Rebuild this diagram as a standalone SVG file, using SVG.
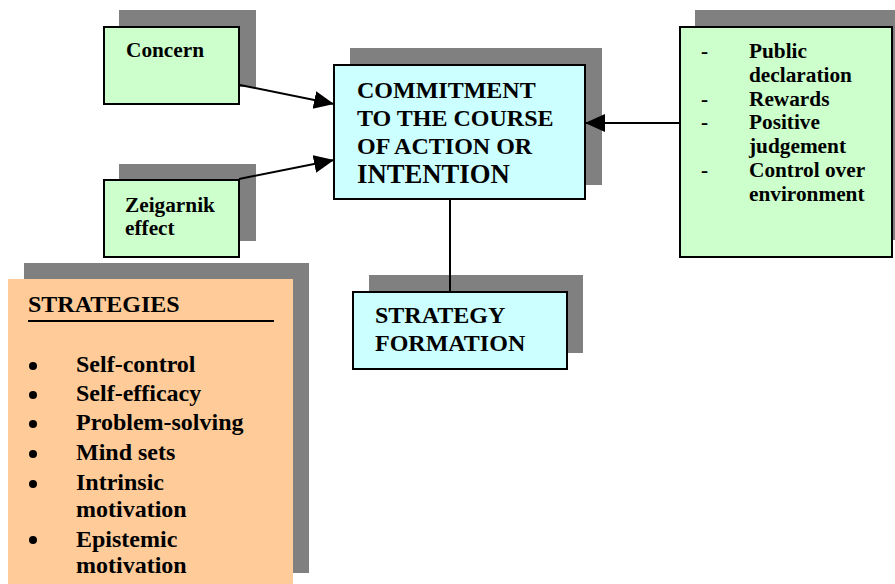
<svg xmlns="http://www.w3.org/2000/svg" width="895" height="584" viewBox="0 0 895 584">
<style>
text{font-family:'Liberation Serif','Times New Roman',Tinos,'DejaVu Serif',serif;font-weight:700;fill:#000}
.sh{fill:#808080}
.g{fill:#CCFFCC;stroke:#000;stroke-width:2}
.c{fill:#CCFFFF;stroke:#000;stroke-width:2}
.o{fill:#FFCC99}
.t16{font-size:21.3px}
.t18{font-size:24px}
.t20{font-size:26.7px}
.ln{stroke:#000;stroke-width:2;fill:none}
</style>
<defs>
<marker id="ah" markerUnits="userSpaceOnUse" markerWidth="22" markerHeight="20" refX="20" refY="9" orient="auto">
<path d="M0,0 L20,9 L0,18 z" fill="#000"/>
</marker>
</defs>
<rect width="895" height="584" fill="#fff"/>
<g id="concern">
<rect class="sh" x="119" y="10" width="137" height="77"/>
<rect class="g" x="104" y="27" width="135" height="77"/>
<text class="t16" x="126" y="57" font-family="Liberation Serif, serif">Concern</text>
</g>
<g id="zeigarnik">
<rect class="sh" x="119" y="164" width="137" height="77"/>
<rect class="g" x="104" y="180" width="135" height="77"/>
<text class="t16" x="125" y="212">Zeigarnik</text>
<text class="t16" x="125" y="235">effect</text>
</g>
<g id="commitment">
<rect class="sh" x="350" y="48" width="252" height="137"/>
<rect class="c" x="334" y="65" width="251" height="134"/>
<text class="t18" x="357" y="98">COMMITMENT</text>
<text class="t18" x="357" y="126">TO THE COURSE</text>
<text class="t18" x="357" y="154">OF ACTION OR</text>
<text class="t20" x="357" y="183">INTENTION</text>
</g>
<g id="factors">
<rect class="sh" x="695" y="10" width="200" height="230"/>
<rect class="g" x="680" y="27" width="212" height="230"/>
<text class="t16" x="701" y="58">-</text>
<text class="t16" x="749" y="58">Public</text>
<text class="t16" x="749" y="82">declaration</text>
<text class="t16" x="701" y="106">-</text>
<text class="t16" x="749" y="106">Rewards</text>
<text class="t16" x="701" y="129">-</text>
<text class="t16" x="749" y="129">Positive</text>
<text class="t16" x="749" y="153">judgement</text>
<text class="t16" x="701" y="177">-</text>
<text class="t16" x="749" y="177">Control over</text>
<text class="t16" x="749" y="201">environment</text>
</g>
<g id="strategy-formation">
<rect class="sh" x="369" y="275" width="214" height="78"/>
<rect class="c" x="353" y="292" width="214" height="77"/>
<text class="t18" x="375" y="323">STRATEGY</text>
<text class="t18" x="375" y="351">FORMATION</text>
</g>
<g id="strategies">
<rect class="sh" x="24" y="263" width="285" height="310"/>
<rect class="o" x="8" y="279" width="285" height="310"/>
<text class="t18" x="28" y="312">STRATEGIES</text>
<line x1="28" y1="321" x2="274" y2="321" stroke="#000" stroke-width="2"/>
<g fill="#000">
<circle cx="33" cy="366" r="4"/>
<circle cx="33" cy="395" r="4"/>
<circle cx="33" cy="424" r="4"/>
<circle cx="33" cy="454" r="4"/>
<circle cx="33" cy="484" r="4"/>
<circle cx="33" cy="540" r="4"/>
</g>
<text class="t18" x="76" y="372">Self-control</text>
<text class="t18" x="76" y="401">Self-efficacy</text>
<text class="t18" x="76" y="430">Problem-solving</text>
<text class="t18" x="76" y="460">Mind sets</text>
<text class="t18" x="76" y="490">Intrinsic</text>
<text class="t18" x="76" y="517">motivation</text>
<text class="t18" x="76" y="547">Epistemic</text>
<text class="t18" x="76" y="573">motivation</text>
</g>
<g id="connectors">
<line class="ln" x1="240" y1="85" x2="334" y2="104" marker-end="url(#ah)"/>
<line class="ln" x1="239" y1="179" x2="334" y2="160" marker-end="url(#ah)"/>
<line class="ln" x1="680" y1="123" x2="585" y2="123" marker-end="url(#ah)"/>
<line class="ln" x1="450" y1="199" x2="450" y2="292"/>
</g>
</svg>
